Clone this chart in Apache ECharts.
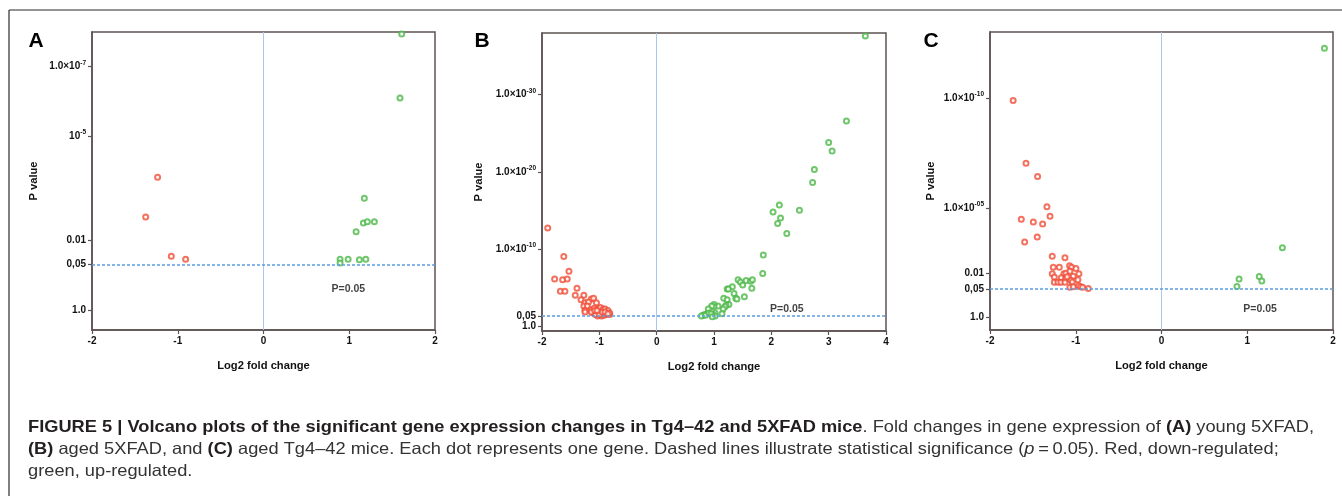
<!DOCTYPE html>
<html>
<head>
<meta charset="utf-8">
<script src="https://cdn.jsdelivr.net/npm/echarts@6/dist/echarts.min.js"></script>
<style>
html,body{margin:0;padding:0;background:#fff;}
#chart{width:1342px;height:496px;}
</style>
</head>
<body>
<div id="chart"></div>
<script>
// ---- Data: x = log2 fold change, y = -log10(P value) ----
const aDownFC   = [-1.235, -1.374, -1.075, -0.908];
const aDownNLP  = [3.82, 2.67, 1.545, 1.46];
const aUpFC     = [1.612, 1.592, 1.176, 1.165, 1.211, 1.293, 1.08, 0.893, 0.893, 0.987, 1.118, 1.193];
const aUpNLP    = [7.94, 6.10, 3.21, 2.50, 2.54, 2.54, 2.25, 1.46, 1.35, 1.46, 1.44, 1.46];

const bDownFC   = [-1.90, -1.62, -1.53, -1.78, -1.64, -1.56, -1.68, -1.60, -1.39, -1.42, -1.27, -1.32, -1.14, -1.10, -1.25, -1.19, -1.27, -1.21, -1.05, -1.25, -1.25,
                   -1.14, -1.09, -1.02, -0.98, -0.93, -0.90, -0.85, -1.05, -0.99, -0.95, -0.89, -0.82, -1.03, -0.96, -0.92, -0.88, -1.11, -1.07, -1.00, -0.95, -1.14, -0.82, -1.08, -1.04, -0.90, -0.85];
const bDownNLP  = [12.7, 9.0, 7.1, 6.1, 6.0, 6.1, 4.5, 4.5, 4.9, 4.0, 4.0, 3.4, 3.5, 3.6, 3.0, 3.1, 2.6, 2.6, 3.0, 2.0, 1.8,
                   2.1, 2.3, 2.2, 2.4, 2.2, 2.2, 2.0, 1.7, 1.8, 1.6, 1.6, 1.5, 1.3, 1.3, 1.4, 1.5, 1.7, 1.5, 1.5, 1.8, 1.8, 1.7, 2.0, 2.0, 1.8, 1.6];
const bUpFC     = [3.64, 3.31, 3.00, 3.06, 2.75, 2.72, 2.14, 2.03, 2.49, 2.16, 2.11, 2.27, 1.86, 1.85,
                   1.42, 1.46, 1.50, 1.56, 1.64, 1.67, 1.66, 1.32, 1.23, 1.25, 1.35, 1.53, 1.38, 1.40,
                   1.17, 1.23, 1.26, 1.21, 1.19, 1.16, 1.14, 1.07, 1.00, 1.00, 0.96, 0.90, 1.02, 0.98, 1.02,
                   0.88, 0.84, 0.81, 0.78, 0.85, 0.91, 0.95, 0.97];
const bUpNLP    = [37.6, 26.6, 23.8, 22.7, 20.3, 18.6, 15.7, 14.8, 15.0, 14.0, 13.3, 12.0, 9.2, 6.8,
                   6.0, 5.7, 5.3, 5.9, 5.8, 6.0, 4.9, 5.1, 4.8, 4.8, 4.2, 3.8, 3.6, 3.5,
                   3.6, 3.4, 2.8, 2.7, 2.5, 2.2, 1.6, 2.6, 2.8, 2.5, 2.6, 2.2, 1.7, 1.5, 1.3,
                   1.6, 1.5, 1.4, 1.3, 1.4, 1.7, 1.6, 1.2];

const cDownFC   = [-1.73, -1.58, -1.445, -1.336, -1.30, -1.635, -1.495, -1.386, -1.449, -1.596, -1.274, -1.126, -1.262, -1.192, -1.072, -1.049, -0.998,
                   -1.274, -1.25, -1.138, -1.115, -1.068, -1.029, -0.963, -1.169, -1.118, -1.06, -0.975, -1.25, -1.208, -1.173, -1.126, -1.04,
                   -1.068, -1.029, -0.967, -0.944, -0.92, -0.854, -1.10];
const cDownNLP  = [9.88, 7.03, 6.42, 5.05, 4.62, 4.48, 4.36, 4.26, 3.67, 3.44, 2.80, 2.73, 2.29, 2.30, 2.36, 2.30, 2.24,
                   2.0, 1.85, 2.0, 2.02, 2.11, 1.89, 2.0, 1.82, 1.77, 1.70, 1.73, 1.61, 1.61, 1.61, 1.61, 1.62,
                   1.39, 1.41, 1.45, 1.41, 1.39, 1.33, 1.86];
const cUpFC     = [1.90, 1.41, 0.905, 0.88, 1.14, 1.17];
const cUpNLP    = [12.26, 3.18, 1.76, 1.42, 1.88, 1.67];

// Y tick values (-log10 P) and labels ("^" marks a superscript)
const aTickVals = [0, 1.30103, 2, 5, 7];
const aTickLbls = ['1.0', '0,05', '0.01', '10^-5', '1.0\u00d710^-7'];
const bTickVals = [0, 1.30103, 10, 20, 30];
const bTickLbls = ['1.0', '0,05', '1.0\u00d710^-10', '1.0\u00d710^-20', '1.0\u00d710^-30'];
const cTickVals = [0, 1.30103, 2, 5, 10];
const cTickLbls = ['1.0', '0,05', '0.01', '1.0\u00d710^-05', '1.0\u00d710^-10'];

const panelLetters = ['A', 'B', 'C'];
const xTitle = 'Log2 fold change';
const yTitle = 'P value';
const sigLabel = 'P=0.05';
const sigNLP = 1.30103;

// ---- Styles ----
const RED = '#f04e37', GREEN = '#4cb847', FRAME = '#5e5252';
const FONT = '"Liberation Sans", Arial, sans-serif';
const zip = (xs, ys) => xs.map((x, i) => [x, ys[i]]);

function fmt(vals, lbls) {
  return function (v) {
    let best = 0, d = Infinity;
    vals.forEach((t, i) => { const dd = Math.abs(t - v); if (dd < d) { d = dd; best = i; } });
    const s = lbls[best];
    const k = s.indexOf('^');
    if (k < 0) return '{b|' + s + '}';
    return '{b|' + s.slice(0, k) + '}{s|' + s.slice(k + 1) + '}';
  };
}

const panels = [
  { grid: { left: 92, top: 32, width: 343, height: 298 }, xmin: -2, xmax: 2, ymin: -0.58, ymax: 8.0,
    vals: aTickVals, lbls: aTickLbls, down: zip(aDownFC, aDownNLP), up: zip(aUpFC, aUpNLP), sig: [0.99, 0.60], nameGap: 53 },
  { grid: { left: 542, top: 33, width: 344, height: 298 }, xmin: -2, xmax: 4, ymin: -0.65, ymax: 38,
    vals: bTickVals, lbls: bTickLbls, down: zip(bDownFC, bDownNLP), up: zip(bUpFC, bUpNLP), sig: [2.27, 2.24], nameGap: 58 },
  { grid: { left: 990, top: 32, width: 343, height: 298 }, xmin: -2, xmax: 2, ymin: -0.56, ymax: 13,
    vals: cTickVals, lbls: cTickLbls, down: zip(cDownFC, cDownNLP), up: zip(cUpFC, cUpNLP), sig: [1.15, 0.41], nameGap: 54 }
];

const axisText = { fontFamily: FONT, fontWeight: 'bold', fontSize: 10, color: '#111' };
const titleText = { fontFamily: FONT, fontWeight: 'bold', fontSize: 11.2, color: '#111' };

const option = { animation: false, grid: [], xAxis: [], yAxis: [], series: [], graphic: [] };

panels.forEach((p, i) => {
  option.grid.push(Object.assign({ show: true, borderColor: FRAME, borderWidth: 1.5, backgroundColor: 'transparent' }, p.grid));
  option.xAxis.push({
    type: 'value', gridIndex: i, min: p.xmin, max: p.xmax, interval: 1,
    name: xTitle, nameLocation: 'middle', nameGap: 30, nameTextStyle: titleText,
    axisLine: { show: true, onZero: false, lineStyle: { color: FRAME, width: 1.5 } },
    axisTick: { show: true, length: 4, lineStyle: { color: FRAME, width: 1.2 } },
    axisLabel: Object.assign({ margin: 6 }, axisText),
    splitLine: { show: false }
  });
  option.yAxis.push({
    type: 'value', gridIndex: i, min: p.ymin, max: p.ymax,
    name: yTitle, nameLocation: 'middle', nameGap: p.nameGap, nameTextStyle: titleText,
    axisLine: { show: true, onZero: false, lineStyle: { color: FRAME, width: 1.5 } },
    axisTick: { show: true, length: 4, customValues: p.vals, lineStyle: { color: FRAME, width: 1.2 } },
    axisLabel: {
      margin: 6, customValues: p.vals, formatter: fmt(p.vals, p.lbls),
      rich: {
        b: Object.assign({ lineHeight: 14, verticalAlign: 'middle' }, axisText),
        s: Object.assign({}, axisText, { fontSize: 6.5, lineHeight: 7, verticalAlign: 'top' })
      }
    },
    splitLine: { show: false }
  });
  option.series.push({
    type: 'scatter', xAxisIndex: i, yAxisIndex: i, data: p.down,
    symbol: 'emptyCircle', symbolSize: 5, itemStyle: { color: RED, borderColor: RED, borderWidth: 1.5 },
    markLine: {
      silent: true, symbol: ['none', 'none'], label: { show: false },
      data: [
        { xAxis: 0, lineStyle: { color: '#a9c8ec', type: 'solid', width: 1 } },
        { yAxis: sigNLP, lineStyle: { color: '#5b9fe0', type: [3, 2], width: 1.5 } }
      ]
    },
    z: 3
  });
  option.series.push({
    type: 'scatter', xAxisIndex: i, yAxisIndex: i, data: p.up,
    symbol: 'emptyCircle', symbolSize: 5, itemStyle: { color: GREEN, borderColor: GREEN, borderWidth: 1.5 }, z: 3
  });
  option.series.push({
    type: 'scatter', xAxisIndex: i, yAxisIndex: i, data: [p.sig], symbolSize: 1, silent: true,
    itemStyle: { color: 'rgba(0,0,0,0)' },
    label: { show: true, position: 'inside', formatter: sigLabel, fontFamily: FONT, fontWeight: 'bold', fontSize: 10.5, color: '#111' }
  });
});

// Panel letters
const letterPos = [[36, 41], [482, 41], [931, 41]];
panelLetters.forEach((L, i) => {
  option.graphic.push({
    type: 'text', x: letterPos[i][0], y: letterPos[i][1],
    style: { text: L, font: 'bold 21px "Liberation Sans", Arial, sans-serif', fill: '#000', align: 'center', verticalAlign: 'middle' }
  });
});

// Outer frame (top and left)
option.graphic.push({ type: 'line', shape: { x1: 9, y1: 10, x2: 1342, y2: 10 }, style: { stroke: '#2a2a2a', lineWidth: 1.2 } });
option.graphic.push({ type: 'line', shape: { x1: 9, y1: 10, x2: 9, y2: 496 }, style: { stroke: '#2a2a2a', lineWidth: 1.2 } });

// Caption (segments: [style, text])
const capLine1 = [['b', 'FIGURE 5 | Volcano plots of the significant gene expression changes in Tg4\u201342 and 5XFAD mice'], ['n', '. Fold changes in gene expression of '], ['b', '(A)'], ['n', ' young 5XFAD,']];
const capLine2 = [['b', '(B)'], ['n', ' aged 5XFAD, and '], ['b', '(C)'], ['n', ' aged Tg4\u201342 mice. Each dot represents one gene. Dashed lines illustrate statistical significance ('], ['i', 'p'], ['n', '\u2009=\u20090.05). Red, down-regulated;']];
const capLine3 = [['n', 'green, up-regulated.']];
const CAP_SIZE = 16.5;
const capRich = {
  b: { fontFamily: FONT, fontWeight: 'bold', fontSize: CAP_SIZE, fill: '#231f20' },
  n: { fontFamily: FONT, fontSize: CAP_SIZE, fill: '#333' },
  i: { fontFamily: FONT, fontStyle: 'italic', fontSize: CAP_SIZE, fill: '#333' }
};
const mctx = document.createElement('canvas').getContext('2d');
function segWidth(segs) {
  let w = 0;
  segs.forEach(([st, t]) => {
    mctx.font = (st === 'b' ? 'bold ' : st === 'i' ? 'italic ' : '') + CAP_SIZE + 'px ' + FONT;
    w += mctx.measureText(t).width;
  });
  return w;
}
const capScaleX = (1314 - 28) / segWidth(capLine1);
[capLine1, capLine2, capLine3].forEach((segs, k) => {
  option.graphic.push({
    type: 'text', x: 28, y: 427 + k * 22, scaleX: capScaleX,
    style: { text: segs.map(([st, t]) => '{' + st + '|' + t + '}').join(''), rich: capRich, verticalAlign: 'middle', align: 'left' }
  });
});

const chart = echarts.init(document.getElementById('chart'), null, { renderer: 'canvas' });
chart.setOption(option);
</script>
</body>
</html>
